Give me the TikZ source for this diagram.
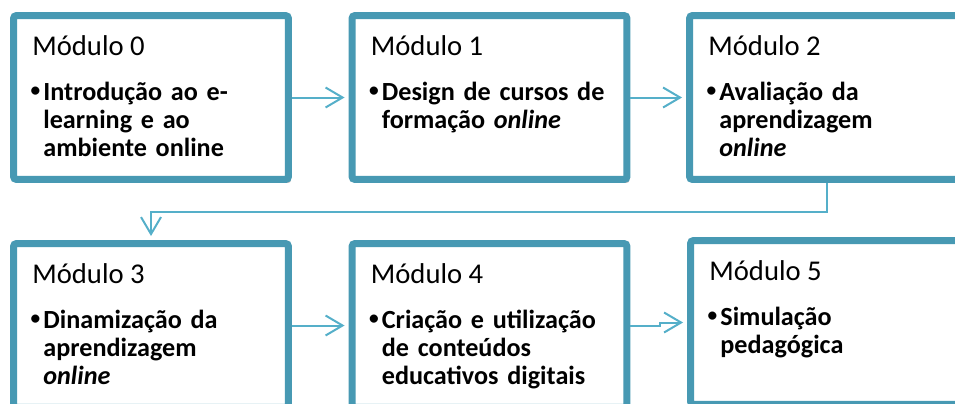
\documentclass[tikz,border=0pt]{standalone}
\usepackage{fontspec}
\setmainfont{Carlito}
\usepackage{tikz}
\usetikzlibrary{arrows.meta,shadows,calc}
\definecolor{boxteal}{HTML}{4799B3}
\definecolor{arrowblue}{HTML}{55AFC9}
\newcommand{\modbullet}{\llap{\raisebox{0.12em}{\fontsize{11}{11}\selectfont•}\hspace{0.12em}}}

\begin{document}
\begin{tikzpicture}[x=0.02cm, y=-0.02cm,
  mod node/.style={rectangle, draw=boxteal, fill=white, line width=0.14cm, rounded corners=0.06cm,
    minimum width=5.5cm, minimum height=3.28cm, inner sep=0pt,
    drop shadow={shadow xshift=0.05cm, shadow yshift=-0.07cm, opacity=0.25, fill=black}},
  mod title/.style={anchor=base west, inner sep=0pt, font=\fontsize{16.3}{19}\selectfont},
  mod body/.style={anchor=base west, inner sep=0pt, text width=5cm, align=left,
    font=\bfseries\fontsize{14.9}{16.2}\selectfont},
  conn/.style={draw=arrowblue, line width=0.04cm, -{Straight Barb[length=0.34cm,width=0.4cm]}, shorten >=0.08cm}]
\useasboundingbox (0,0) rectangle (955,403);
\clip (0,0) rectangle (955,403);
% modules
\node[mod node] (m0) at (151,97.5) {};
\node[mod node] (m1) at (489.5,97.5) {};
\node[mod node] (m2) at (827,97.5) {};
\node[mod node] (m3) at (151,325.5) {};
\node[mod node] (m4) at (489.5,325.5) {};
\node[mod node] (m5) at (828,322.5) {};
% titles and topics
\node[mod title] (t0) at ($(m0.north west)+(22,43)$) {Módulo 0};
\node[mod body] (b0) at ($(m0.north west)+(33,88)$) {\modbullet Introdução ao e-\\learning e ao\\ambiente online};
\node[mod title] (t1) at ($(m1.north west)+(22,43)$) {Módulo 1};
\node[mod body] (b1) at ($(m1.north west)+(33,88)$) {\modbullet Design de cursos de\\formação \textit{online}};
\node[mod title] (t2) at ($(m2.north west)+(22,43)$) {Módulo 2};
\node[mod body] (b2) at ($(m2.north west)+(33,88)$) {\modbullet Avaliação da\\aprendizagem\\\textit{online}};
\node[mod title] (t3) at ($(m3.north west)+(22,43)$) {Módulo 3};
\node[mod body] (b3) at ($(m3.north west)+(33,88)$) {\modbullet Dinamização da\\aprendizagem\\\textit{online}};
\node[mod title] (t4) at ($(m4.north west)+(22,43)$) {Módulo 4};
\node[mod body] (b4) at ($(m4.north west)+(33,88)$) {\modbullet Criação e utilização\\de conteúdos\\educativos digitais};
\node[mod title] (t5) at ($(m5.north west)+(22,43)$) {Módulo 5};
\node[mod body] (b5) at ($(m5.north west)+(33,88)$) {\modbullet Simulação\\pedagógica};
% connectors
\path[conn] (m0) edge (m1)
  (m1) edge (m2)
  (m3) edge (m4);
\draw[conn] (m4.east) -- ++(30,0) |- (m5.west);
\draw[conn] (m2.south) -- ++(0,29) -| (m3.north);
\end{tikzpicture}
\end{document}
